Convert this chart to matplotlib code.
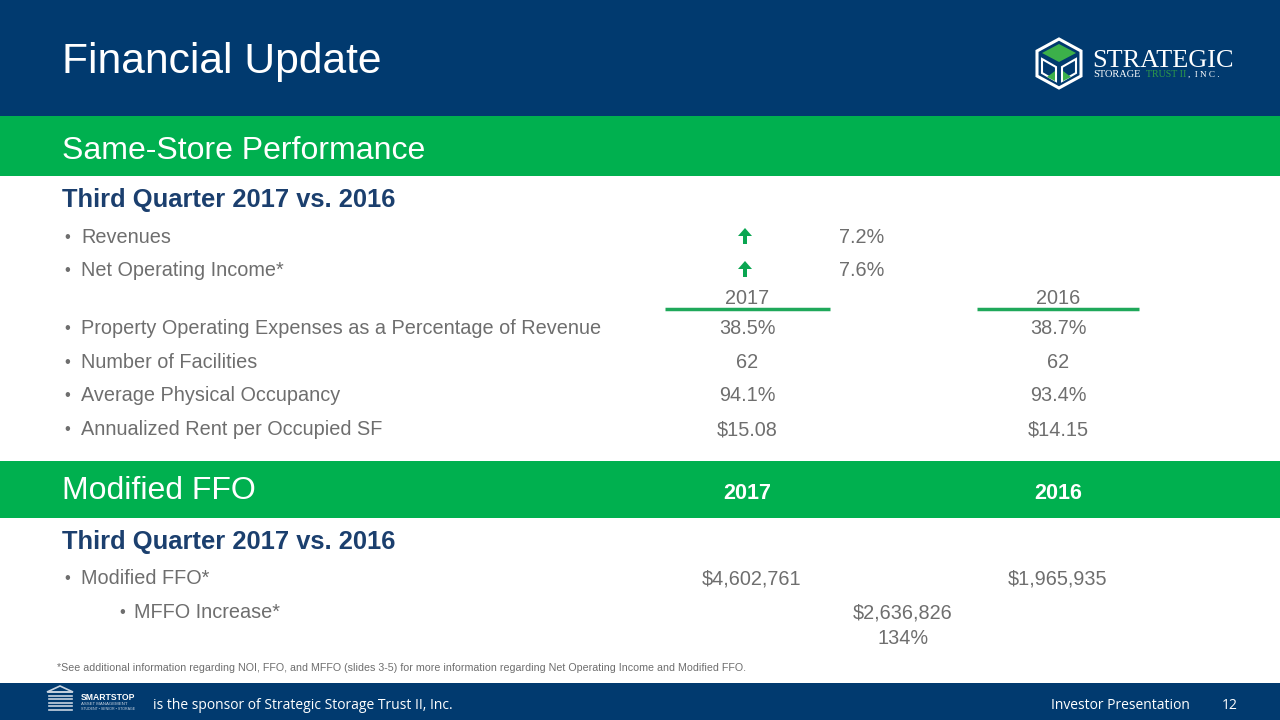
import matplotlib.pyplot as plt
import matplotlib.patches as mpatches

# couleurs
navy = "#013a6f"
green = "#00b04f"
line_green = "#1fa85a"
dark_blue = "#1b3f6e"
gray = "#6e6e6e"

# données
titre = "Financial Update"
bande1 = "Same-Store Performance"
bande2 = "Modified FFO"
sous_titre = "Third Quarter 2017 vs. 2016"

croissance_labels = ["Revenues", "Net Operating Income*"]
croissance_vals = ["7.2%", "7.6%"]

annees = ["2017", "2016"]
stats_labels = ["Property Operating Expenses as a Percentage of Revenue",
                "Number of Facilities",
                "Average Physical Occupancy",
                "Annualized Rent per Occupied SF"]
stats_2017 = ["38.5%", "62", "94.1%", "$15.08"]
stats_2016 = ["38.7%", "62", "93.4%", "$14.15"]

mffo_label = "Modified FFO*"
mffo_vals = ["$4,602,761", "$1,965,935"]
increase_label = "MFFO Increase*"
increase_vals = ["$2,636,826", "134%"]

note = ("*See additional information regarding NOI, FFO, and MFFO (slides 3-5) "
        "for more information regarding Net Operating Income and Modified FFO.")
sponsor = "is the sponsor of Strategic Storage Trust II, Inc."
footer_r = "Investor Presentation"
page = "12"

plt.rcParams['font.family'] = ['Liberation Sans', 'DejaVu Sans']

fig = plt.figure(figsize=(12.8, 7.2), dpi=100)
ax = fig.add_axes([0, 0, 1, 1])
ax.set_xlim(0, 1280)
ax.set_ylim(720, 0)
ax.axis("off")

def rect(x, y, w, h, c):
    ax.add_patch(mpatches.Rectangle((x, y), w, h, color=c, lw=0))

def txt(x, y, s, size, color=gray, **kw):
    # y = centre des majuscules -> ligne de base
    base = y + 0.716 * size * 100 / 72 / 2
    ax.text(x, base, s, fontsize=size, color=color, va="baseline", **kw)

BODY = 14.3

## bandes
rect(0, 0, 1280, 116, navy)
rect(0, 116, 1280, 60, green)
rect(0, 461, 1280, 57, green)
rect(0, 683, 1280, 37, navy)

txt(62, 58, titre, 30.7, "white")
txt(62, 148, bande1, 23, "white")
txt(62, 488, bande2, 23, "white")
txt(747, 491, annees[0], 15.5, "white", weight="bold", ha="center")
txt(1058, 491, annees[1], 15.5, "white", weight="bold", ha="center")

## logo strategic (approx)
cx, cy = 1059, 63
cube = mpatches.Polygon([(cx, cy - 24), (cx + 22, cy - 12), (cx + 22, cy + 13), (cx, cy + 25),
                         (cx - 22, cy + 13), (cx - 22, cy - 12)], closed=True,
                        fill=False, ec="white", lw=2.2)
ax.add_patch(cube)
ax.add_patch(mpatches.Polygon([(cx, cy - 19), (cx + 17, cy - 10), (cx, cy - 1), (cx - 17, cy - 10)],
                              closed=True, color="#3cb04a", lw=0))
ax.add_patch(mpatches.Polygon([(cx - 17, cy - 4), (cx - 3, cy + 4), (cx - 3, cy + 18), (cx - 17, cy + 10)],
                              closed=True, fill=False, ec="white", lw=1.5))
ax.add_patch(mpatches.Polygon([(cx + 17, cy - 4), (cx + 3, cy + 4), (cx + 3, cy + 18), (cx + 17, cy + 10)],
                              closed=True, fill=False, ec="white", lw=1.5))
ax.add_patch(mpatches.Polygon([(cx - 12, cy + 14), (cx - 4, cy + 18), (cx - 4, cy + 8)], color="#3cb04a", lw=0))
ax.add_patch(mpatches.Polygon([(cx + 12, cy + 14), (cx + 4, cy + 18), (cx + 4, cy + 8)], color="#3cb04a", lw=0))
ax.text(1092, 67, "STRATEGIC", color="white", fontsize=18.9, family="Liberation Serif", va="baseline")
ax.text(1093, 77, "STORAGE", color="white", fontsize=7.5, family="Liberation Serif", va="baseline")
ax.text(1146, 77, "TRUST II", color="#2e9b48", fontsize=7.2, family="Liberation Serif", va="baseline")
ax.text(1188, 77, ",  I N C .", color="white", fontsize=6.6, family="Liberation Serif", va="baseline")

## section 1
txt(62, 198, sous_titre, 18.4, dark_blue, weight="bold")

ys_croiss = [236, 269]
for lab, v, y in zip(croissance_labels, croissance_vals, ys_croiss):
    txt(64, y, "•", 12)
    txt(81, y, lab, BODY)
    ax.add_patch(mpatches.FancyArrow(745, y + 8, 0, -16, width=4, head_width=14,
                                     head_length=8, length_includes_head=True,
                                     color="#0aa651", lw=0))
    txt(862, y, v, BODY, ha="center")

txt(747, 297, annees[0], BODY, ha="center")
txt(1058, 297, annees[1], BODY, ha="center")
ax.plot([665, 830], [309, 309], color=line_green, lw=2.5, solid_capstyle="butt")
ax.plot([977, 1139], [309, 309], color=line_green, lw=2.5, solid_capstyle="butt")

ys_stats = [327, 361, 394, 428]
for lab, a, b, y in zip(stats_labels, stats_2017, stats_2016, ys_stats):
    txt(64, y, "•", 12)
    txt(81, y, lab, BODY)
    txt(747, y, a, BODY, ha="center")
    txt(1058, y, b, BODY, ha="center")

## section 2
txt(62, 540, sous_titre, 18.4, dark_blue, weight="bold")
txt(64, 577, "•", 12)
txt(81, 577, mffo_label, BODY)
txt(752, 577, mffo_vals[0], BODY, ha="center")
txt(1058, 577, mffo_vals[1], BODY, ha="center")
txt(119, 611, "•", 12)
txt(134, 611, increase_label, BODY)
txt(903, 611, increase_vals[0], BODY, ha="center")
txt(903, 637, increase_vals[1], BODY, ha="center")

txt(57, 667, note, 7.65, family=["Liberation Sans Narrow", "Liberation Sans"])

## pied de page
for i in range(6):
    yy = 692 + i * 3.6
    ax.plot([49, 72], [yy, yy], color="#c8d3e0", lw=1.2)
ax.add_patch(mpatches.Polygon([(47, 692), (60, 686), (73, 692)], closed=True,
                              fill=False, ec="#c8d3e0", lw=1.2))
ax.text(81, 697, "SMARTSTOP", color="white", fontsize=6.2, weight="bold", va="center")
ax.text(81, 704, "ASSET MANAGEMENT", color="#c8d3e0", fontsize=3.2, va="center")
ax.text(81, 709, "STUDENT • SENIOR • STORAGE", color="#c8d3e0", fontsize=2.6, va="center")
txt(153, 704, sponsor, 10.0, "white", family="Open Sans")
txt(1051, 704, footer_r, 10.0, "white", family="Open Sans")
txt(1222, 704, page, 10.0, "white", family="Open Sans")

fig.savefig("out.png", dpi=100)
